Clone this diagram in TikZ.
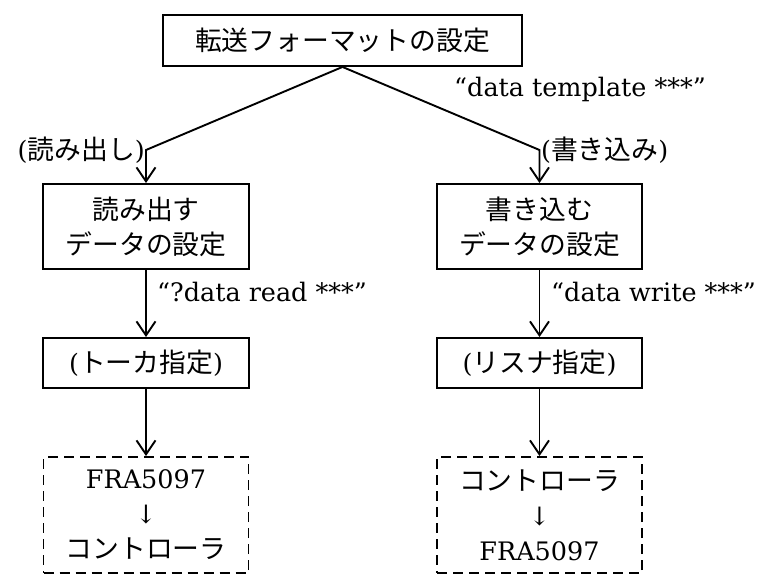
\documentclass[tikz,border=0pt]{standalone}
\usepackage{fontspec}
\setmainfont[Scale=0.95]{DejaVu Serif}
\newfontfamily\jp{Noto Sans CJK JP}
\usetikzlibrary{arrows.meta}
\newcommand{\jt}[1]{{\jp #1}}
\begin{document}
\begin{tikzpicture}[x=1pt,y=-1pt,
  every node/.style={font=\fontsize{26.8}{35}\selectfont},
  box/.style={draw,line width=1.9pt,inner sep=0pt,align=center},
  dbox/.style={box,dash pattern=on 10pt off 6pt},
  conn/.style={line width=1.9pt},
  arr/.style={conn,-{Straight Barb[length=14pt,width=19pt,line width=1.9pt]}},
  lbl/.style={inner sep=0pt}]
\useasboundingbox (0,0) rectangle (760,575);
\node[box,minimum width=359pt,minimum height=51pt] (top) at (342.5,40.5) {\jt{転送フォーマットの設定}};
\node[box,minimum width=206pt,minimum height=85pt] (r2) at (146,226.5) {\jt{読み出す}\\\jt{データの設定}};
\node[box,minimum width=205pt,minimum height=85pt] (w2) at (539.5,226.5) {\jt{書き込む}\\\jt{データの設定}};
\node[box,minimum width=206pt,minimum height=50pt] (r3) at (146,363) {(\jt{トーカ指定})};
\node[box,minimum width=205pt,minimum height=50pt] (w3) at (539.5,363) {(\jt{リスナ指定})};
\node[dbox,minimum width=205pt,minimum height=116pt] (r4) at (146,515) {FRA5097\\↓\\\jt{コントローラ}};
\node[dbox,minimum width=205pt,minimum height=116pt] (w4) at (539.5,515) {\jt{コントローラ}\\↓\\FRA5097};
\coordinate (lc) at (146,150);
\coordinate (rc) at (539.5,150);
\draw[arr] (top.south) -- (lc) -- (r2.north);
\draw[arr] (top.south) -- (rc) -- (w2.north);
\draw[arr] (r2.south) -- (r3.north);
\draw[arr] (w2.south) -- (w3.north);
\draw[arr] (r3.south) -- (r4.north);
\draw[arr] (w3.south) -- (w4.north);
\node[lbl,anchor=east] (lr) at (145,150) {(\jt{読み出し})};
\node[lbl,anchor=west] (lw) at (541,150) {(\jt{書き込み})};
\node[lbl,anchor=west] (lt) at (454,89) {“data template ***”};
\node[lbl,anchor=west] (ldr) at (157,292) {“?data read ***”};
\node[lbl,anchor=west] (ldw) at (551,292) {“data write ***”};
\end{tikzpicture}
\end{document}
